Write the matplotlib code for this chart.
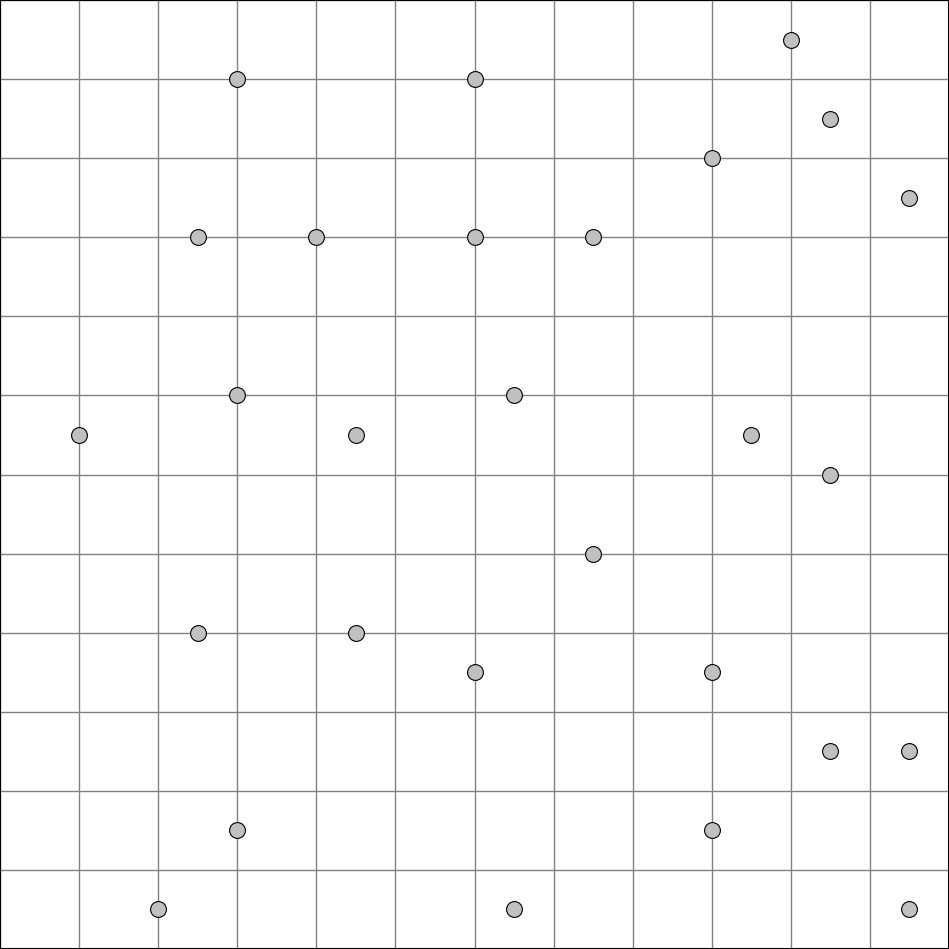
import numpy as np
import matplotlib.pyplot as plt

# point positions in grid units (12 x 12 grid, y measured from bottom)
xs = [10, 3, 6, 10.5, 9, 11.5, 2.5, 4, 6, 7.5, 3, 6.5, 1, 4.5, 9.5, 10.5,
      7.5, 2.5, 4.5, 6, 9, 10.5, 11.5, 3, 9, 2, 6.5, 11.5]
ys = [11.5, 11, 11, 10.5, 10, 9.5, 9, 9, 9, 9, 7, 7, 6.5, 6.5, 6.5, 6,
      5, 4, 4, 3.5, 3.5, 2.5, 2.5, 1.5, 1.5, 0.5, 0.5, 0.5]

fig = plt.figure(figsize=(9.49, 9.49), dpi=100)
ax = fig.add_axes([0, 0, 1, 1])

ax.set_xlim(0, 12)
ax.set_ylim(0, 12)
ax.set_xticks(np.arange(0, 13))
ax.set_yticks(np.arange(0, 13))
ax.grid(True, color='#808080', linewidth=1)
ax.tick_params(length=0, labelbottom=False, labelleft=False)
for s in ax.spines.values():
    s.set_color('black')
    s.set_linewidth(1.5)

ax.scatter(xs, ys, s=130, facecolor='#c0c0c0', edgecolor='black',
           linewidth=0.8, zorder=3)

fig.savefig('out.png', dpi=100)
